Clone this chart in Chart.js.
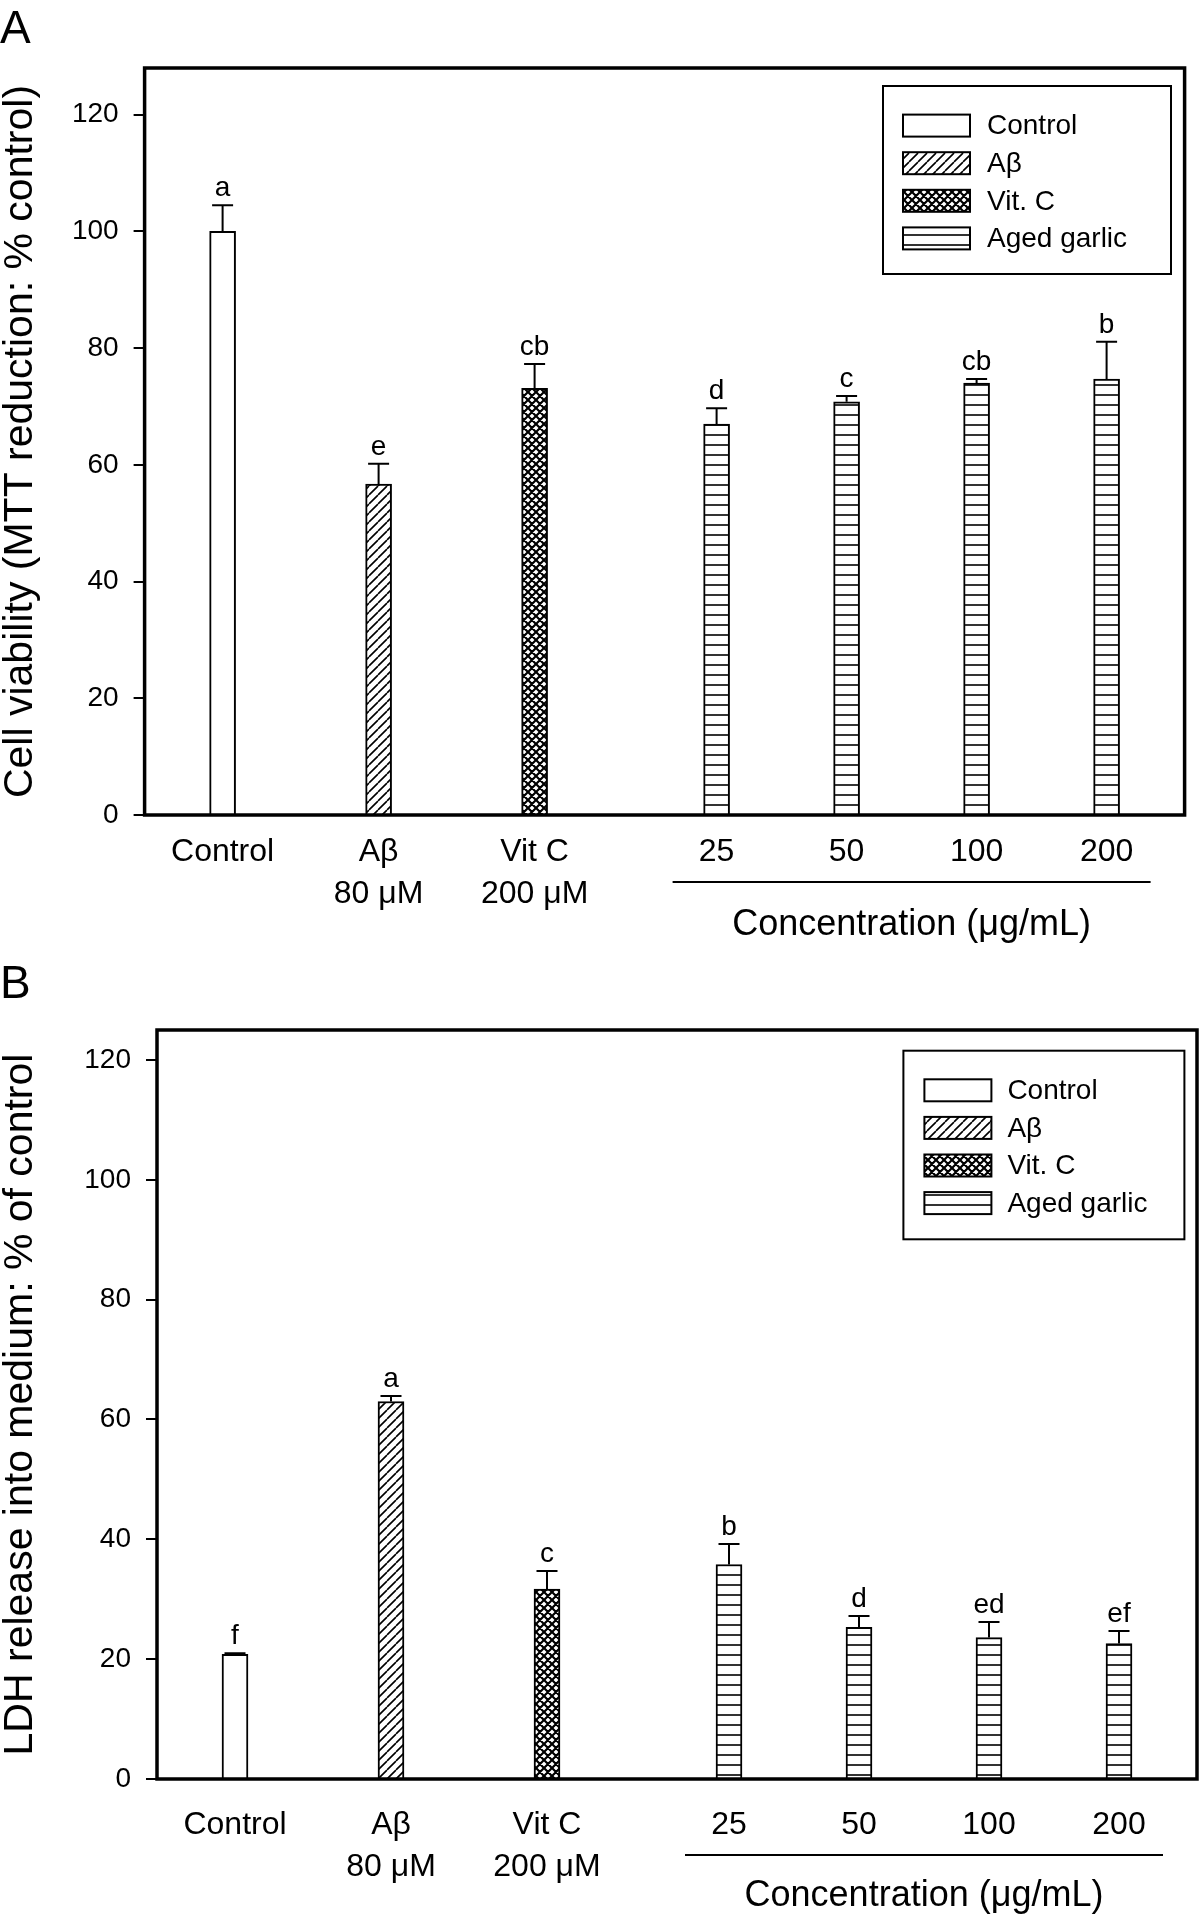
<!DOCTYPE html>
<html>
<head>
<meta charset="utf-8">
<title>Cell viability and LDH release</title>
<script src="https://cdn.jsdelivr.net/npm/chart.js@4.4.1/dist/chart.umd.min.js"></script>
<style>
  html, body { margin: 0; padding: 0; background: #fff; }
  #wrap { position: relative; width: 1200px; height: 1919px; }
  .panel { position: absolute; left: 0; width: 1200px; }
  #panelA { top: 0; height: 960px; }
  #panelB { top: 960px; height: 959px; }
</style>
</head>
<body>
<div id="wrap">
  <div class="panel" id="panelA"><canvas id="chartA"></canvas></div>
  <div class="panel" id="panelB"><canvas id="chartB"></canvas></div>
</div>
<script>
// Groups on the x axis (same for both panels)
const groupLabels = [["Control"], ["Aβ", "80 μM"], ["Vit C", "200 μM"], ["25"], ["50"], ["100"], ["200"]];
const groupKind = ["Control", "Aβ", "Vit. C", "Aged garlic", "Aged garlic", "Aged garlic", "Aged garlic"];
const legendNames = ["Control", "Aβ", "Vit. C", "Aged garlic"];
const yTicks = [0, 20, 40, 60, 80, 100, 120];

// Panel A: cell viability (MTT reduction, % control)
const mttMean = [100, 56.7, 73.1, 67.0, 70.8, 74.0, 74.7];
const mttErr = [4.5, 3.5, 4.2, 2.7, 1.0, 0.7, 6.4];
const mttLetters = ["a", "e", "cb", "d", "c", "cb", "b"];

// Panel B: LDH release into medium (% of control)
const ldhMean = [20.8, 63.0, 31.7, 35.8, 25.3, 23.6, 22.6];
const ldhErr = [0.2, 0.9, 3.0, 3.4, 1.9, 2.6, 2.1];
const ldhLetters = ["f", "a", "c", "b", "d", "ed", "ef"];

// Layout: where each group sits along the x axis (extra gap before the garlic doses)
const slotPos = [0, 1.2, 2.4, 3.8, 4.8, 5.8, 6.8];

const FONT = '"Liberation Sans", Arial, Helvetica, sans-serif';
Chart.defaults.font.family = FONT;
Chart.defaults.color = '#000';

// Hatch fills like the original figure
function makeFill(kind) {
    if (kind === "Control") return "#ffffff";
    const c = document.createElement("canvas");
    const g = c.getContext("2d");
    let s = 9;
    if (kind === "Vit. C") s = 8;
    if (kind === "Aged garlic") s = 10;
    c.width = s; c.height = s;
    g.fillStyle = "#fff";
    g.fillRect(0, 0, s, s);
    g.strokeStyle = "#000";
    g.beginPath();
    if (kind === "Aβ") {
        g.lineWidth = 1.6;
        for (let k = -1; k <= 1; k++) { g.moveTo(k * s, s); g.lineTo(k * s + s, 0); }
    } else if (kind === "Vit. C") {
        g.lineWidth = 2.2;
        for (let k = -1; k <= 1; k++) {
            g.moveTo(k * s, s); g.lineTo(k * s + s, 0);
            g.moveTo(k * s, 0); g.lineTo(k * s + s, s);
        }
    } else {
        g.lineWidth = 1.6;
        g.moveTo(0, s / 2); g.lineTo(s, s / 2);
    }
    g.stroke();
    return g.createPattern(c, "repeat");
}
const fills = {};
legendNames.forEach(n => fills[n] = makeFill(n));

// Frame, error bars, letters, legend, concentration bracket, panel letter
const annotate = {
    id: "annotate",
    afterDatasetsDraw(chart, args, o) {
        const { ctx, chartArea: area, scales: { x, y } } = chart;
        ctx.save();
        ctx.strokeStyle = "#000";
        ctx.fillStyle = "#000";

        // error bars + letters
        o.means.forEach((m, i) => {
            const px = x.getPixelForValue(slotPos[i]);
            const top = y.getPixelForValue(m);
            const capY = y.getPixelForValue(m + o.errs[i]);
            ctx.lineWidth = 2;
            ctx.beginPath();
            ctx.moveTo(px, top); ctx.lineTo(px, capY);
            ctx.moveTo(px - 10.5, capY); ctx.lineTo(px + 10.5, capY);
            ctx.stroke();
            ctx.font = "28px " + FONT;
            ctx.textAlign = "center";
            ctx.textBaseline = "alphabetic";
            ctx.fillText(o.letters[i], px, capY - 9);
        });

        // plot frame
        ctx.lineWidth = 3.5;
        ctx.strokeRect(area.left, area.top, area.right - area.left, area.bottom - area.top);

        // legend box
        const L = o.legend;
        const bx = area.right - L.right - L.w, by = area.top + L.top;
        ctx.lineWidth = 2;
        ctx.strokeRect(bx, by, L.w, L.h);
        legendNames.forEach((name, k) => {
            const cy = by + 2 + 37.6 * (k + 1);
            ctx.fillStyle = fills[name];
            ctx.fillRect(bx + L.sw, cy - 11, 67, 22);
            ctx.lineWidth = 2;
            ctx.strokeRect(bx + L.sw, cy - 11, 67, 22);
            ctx.fillStyle = "#000";
            ctx.font = "28px " + FONT;
            ctx.textAlign = "left";
            ctx.textBaseline = "middle";
            ctx.fillText(name, bx + 104, cy + 1);
        });

        // concentration bracket under the garlic doses
        const x1 = x.getPixelForValue(slotPos[3]) - 44;
        const x2 = x.getPixelForValue(slotPos[6]) + 44;
        ctx.lineWidth = 2;
        ctx.beginPath();
        ctx.moveTo(x1, area.bottom + o.lineGap);
        ctx.lineTo(x2, area.bottom + o.lineGap);
        ctx.stroke();
        ctx.font = "36px " + FONT;
        ctx.textAlign = "center";
        ctx.textBaseline = "middle";
        ctx.fillText("Concentration (μg/mL)", (x1 + x2) / 2, area.bottom + o.textGap);

        // panel letter
        ctx.font = "46px " + FONT;
        ctx.textAlign = "left";
        ctx.textBaseline = "alphabetic";
        ctx.fillText(o.panel, 0, o.panelBase);
        ctx.restore();
    }
};

function makeChart(id, p) {
    return new Chart(document.getElementById(id), {
        type: "bar",
        data: {
            datasets: [{
                data: slotPos.map((pos, i) => ({ x: pos, y: p.means[i] })),
                backgroundColor: groupKind.map(k => fills[k]),
                borderColor: "#000",
                borderWidth: 2,
                barThickness: 26
            }]
        },
        options: {
            responsive: true,
            maintainAspectRatio: false,
            animation: false,
            layout: { padding: { top: p.padTop, right: p.padRight, left: 0, bottom: 0 } },
            plugins: {
                legend: { display: false },
                tooltip: { enabled: false },
                annotate: p
            },
            scales: {
                x: {
                    type: "linear",
                    min: -0.6,
                    max: 7.4,
                    offset: false,
                    afterBuildTicks: s => { s.ticks = slotPos.map(v => ({ value: v })); },
                    afterFit: s => { s.height = p.xHeight; },
                    grid: { display: false, drawTicks: false, offset: false },
                    border: { display: false },
                    ticks: {
                        color: "#000",
                        autoSkip: false,
                        maxRotation: 0,
                        padding: p.xPad,
                        font: { size: 32, lineHeight: 1.32 },
                        callback: (v, i) => groupLabels[i]
                    }
                },
                y: {
                    min: 0,
                    max: p.yMax,
                    afterBuildTicks: s => { s.ticks = yTicks.map(v => ({ value: v })); },
                    afterFit: s => { s.width = p.yWidth; },
                    grid: { drawOnChartArea: false, drawTicks: true, tickLength: 11, color: "#000", lineWidth: 2 },
                    border: { display: false },
                    ticks: { color: "#000", padding: 15, font: { size: 28 } },
                    title: {
                        display: true,
                        text: p.yTitle,
                        color: "#000",
                        font: { size: 41, lineHeight: 1.0 },
                        padding: { top: 0.5, bottom: 0 }
                    }
                }
            }
        },
        plugins: [annotate]
    });
}

makeChart("chartA", {
    means: mttMean, errs: mttErr, letters: mttLetters,
    yTitle: "Cell viability (MTT reduction: % control)",
    yMax: 128, padTop: 68, padRight: 15.4, yWidth: 144.6, xHeight: 145, xPad: 16,
    legend: { right: 13.6, top: 18, w: 288, h: 188, sw: 20 },
    lineGap: 67, textGap: 110, panel: "A", panelBase: 43
});

makeChart("chartB", {
    means: ldhMean, errs: ldhErr, letters: ldhLetters,
    yTitle: "LDH release into medium: % of control",
    yMax: 125, padTop: 70, padRight: 3, yWidth: 157, xHeight: 140, xPad: 25,
    legend: { right: 12.6, top: 20.7, w: 281, h: 188.6, sw: 21 },
    lineGap: 76, textGap: 117, panel: "B", panelBase: 38
});
</script>
</body>
</html>
